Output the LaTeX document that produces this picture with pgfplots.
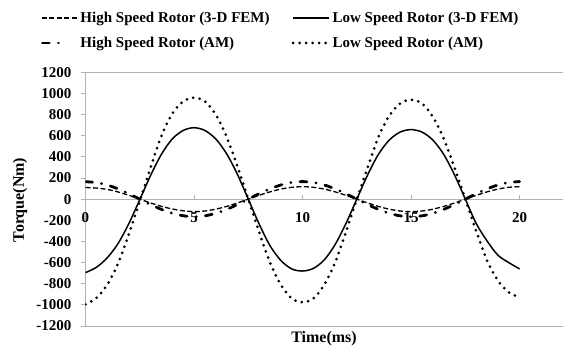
\documentclass[border=0pt]{standalone}
\usepackage{fontspec}
\setmainfont{Liberation Serif}
\usepackage{pgfplots}
\usepackage{pgfplotstable}
\pgfplotsset{compat=1.18}
% short legend sample for the dash-dot curve
\pgfplotsset{short legend/.style={legend image code/.code={\draw[##1] (0.5pt,0pt) -- (20pt,0pt);}}}

% Rotor torque over one electrical period (two cycles)
% t in ms; HF/LF = high/low speed rotor, 3-D FEM; HA/LA = high/low speed rotor, analytical model
\pgfplotstableread{
t     HF    LF     HA    LA
0.0   110  -695    165  -995
0.5   105  -645    157  -935
1.0    92  -555    134  -810
1.5    68  -420     97  -610
2.0    36  -230     51  -330
2.5     0    -5      0   -20
3.0   -36   225    -51   300
3.5   -68   425    -97   600
4.0   -93   570   -134   810
4.5  -110   650   -157   925
5.0  -118   676   -166   960
5.5  -112   650   -158   925
6.0   -95   570   -134   800
6.5   -69   430    -97   590
7.0   -36   235    -51   310
7.5     0     0      0     0
8.0    36  -235     51  -310
8.5    69  -440     97  -600
9.0    95  -580    134  -810
9.5   112  -660    158  -940
10.0  118  -680    166  -975
10.5  112  -655    158  -940
11.0   95  -575    134  -810
11.5   69  -430     97  -600
12.0   36  -230     51  -310
12.5    0     0      0     0
13.0  -36   230    -51   300
13.5  -69   425    -97   590
14.0  -95   560   -134   790
14.5 -112   635   -158   905
15.0 -118   658   -166   940
15.5 -112   635   -158   905
16.0  -95   560   -134   780
16.5  -69   425    -97   575
17.0  -36   230    -51   300
17.5    0     0      0     0
18.0   36  -230     51  -300
18.5   69  -395     97  -580
19.0   95  -530    134  -770
19.5  112  -600    158  -880
20.0  118  -660    166  -930
}\torque

\begin{document}
\begin{tikzpicture}[x=1pt,y=1pt]
\useasboundingbox (0,0) rectangle (563,349);
\begin{axis}[
  at={(85.5pt,23pt)}, anchor=south west,
  scale only axis, width=477.5pt, height=253.7pt,
  xmin=0, xmax=22, ymin=-1200, ymax=1200,
  axis y line=left, axis x line=middle,
  axis line style={draw=gray!60, line width=0.8pt, -},
  hide obscured x ticks=false,
  xtick={0,5,10,15,20},
  ytick={-1200,-1000,...,1200},
  extra y ticks={-1200,1200},
  extra y tick labels={},
  extra y tick style={grid=major, major grid style={draw=gray!60, line width=0.8pt}},
  tick style={draw=gray!60, line width=0.8pt},
  ytick align=outside, xtick align=inside,
  major tick length=4.5pt,
  /pgf/number format/assume math mode=true,
  /pgf/number format/1000 sep={},
  ticklabel style={font=\bfseries\fontsize{15}{15}\selectfont},
  xticklabel style={yshift=-10pt},
  yticklabel style={xshift=-6pt},
  xlabel={\bfseries Time(ms)},
  ylabel={\bfseries Torque(Nm)},
  label style={font=\bfseries\fontsize{16}{16}\selectfont},
  xlabel style={at={(axis description cs:0.4995,-0.051)}, anchor=center},
  ylabel style={at={(axis description cs:-0.137,0.497)}, anchor=center, rotate=0},
  legend columns=2,
  legend cell align=left,
  legend image code/.code={\draw[#1] (0pt,0pt) -- (36pt,0pt);},
  legend style={draw=none, fill=none, at={(axis description cs:-0.1,1.254)},
    anchor=north west, font=\bfseries\fontsize{15}{18}\selectfont,
    row sep=9pt, /tikz/every even column/.append style={column sep=20pt}},
]
\addplot[black, line width=1.3pt, dash pattern=on 5pt off 2.5pt, smooth]
  table[x=t, y=HF] {\torque};
\addlegendentry{High Speed Rotor (3-D FEM)}
\addplot[black, line width=1.5pt, smooth]
  table[x=t, y=LF] {\torque};
\addlegendentry{Low Speed Rotor (3-D FEM)}
\addplot[black, line width=2.8pt, line cap=round, dash pattern=on 7pt off 9pt on 0.3pt off 9pt, smooth,
  short legend]
  table[x=t, y=HA] {\torque};
\addlegendentry{High Speed Rotor (AM)}
\addplot[black, line width=3pt, line cap=round, dash pattern=on 0pt off 6.5pt, smooth]
  table[x=t, y=LA] {\torque};
\addlegendentry{Low Speed Rotor (AM)}
\end{axis}
\end{tikzpicture}
\end{document}
